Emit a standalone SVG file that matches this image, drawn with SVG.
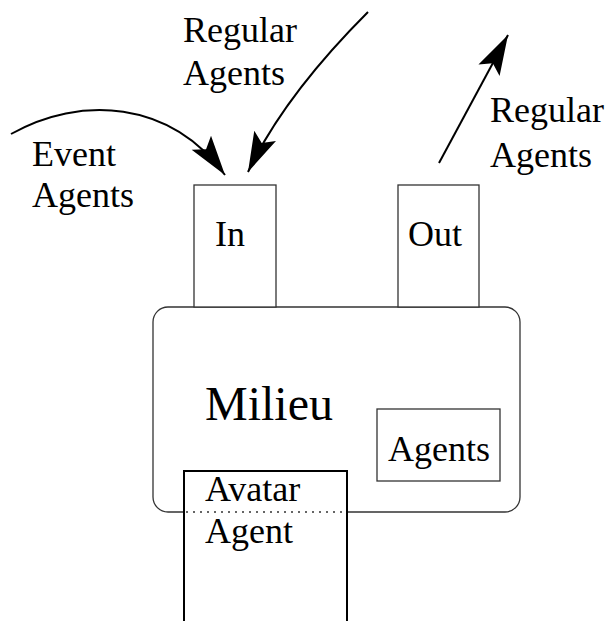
<svg xmlns="http://www.w3.org/2000/svg" width="607" height="621" viewBox="0 0 607 621">
<style>
text{font-family:"Liberation Serif","Times New Roman",serif;fill:#000;font-size:36px}
.box{fill:#fff;stroke:#333;stroke-width:1.3}
.arr{fill:none;stroke:#000;stroke-width:2;marker-end:url(#ah)}
</style>
<defs>
<marker id="ah" markerUnits="userSpaceOnUse" markerWidth="44" markerHeight="30" viewBox="-2 -14 44 28" refX="40" refY="0" orient="auto">
<path d="M0,-12 L40,0 L0,12 L8,0 z" fill="#000"/>
</marker>
</defs>
<g id="milieu">
<rect class="box" x="153" y="307" width="367" height="205" rx="15" ry="15"/>
<text x="205" y="420" style="font-size:48px">Milieu</text>
</g>
<g id="in">
<rect class="box" x="194" y="185" width="82" height="122"/>
<text x="215" y="246">In</text>
</g>
<g id="out">
<rect class="box" x="398" y="185" width="81" height="122"/>
<text x="408" y="246">Out</text>
</g>
<g id="agents">
<rect class="box" x="377" y="409" width="123" height="72"/>
<text x="388" y="461">Agents</text>
</g>
<g id="avatar">
<path d="M184,621 V471 H347 V621" fill="#fff" stroke="#000" stroke-width="2"/>
<line x1="186" y1="512" x2="346" y2="512" stroke="#333" stroke-width="1.3" stroke-dasharray="2,5"/>
<text x="205" y="501">Avatar</text>
<text x="205" y="543">Agent</text>
</g>
<g id="labels">
<text x="183" y="42">Regular</text>
<text x="183" y="85">Agents</text>
<text x="32" y="166">Event</text>
<text x="32" y="207">Agents</text>
<text x="490" y="122">Regular</text>
<text x="490" y="167">Agents</text>
</g>
<g id="connectors">
<path class="arr" d="M368,12 C320,60 275,115 248,172"/>
<path class="arr" d="M11,134 C80,95 170,100 225,175"/>
<path class="arr" d="M439,163 L508,35"/>
</g>
</svg>
